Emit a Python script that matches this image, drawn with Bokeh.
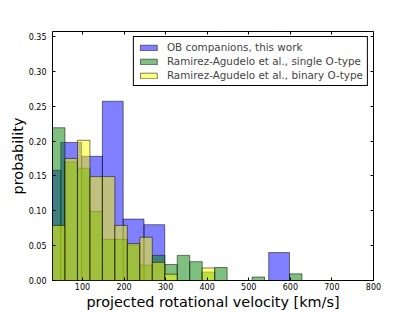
from bokeh.plotting import figure
from bokeh.models import (Range1d, FixedTicker, PrintfTickFormatter, LinearAxis,
                          Legend, LegendItem, CustomJSTickFormatter, ColumnDataSource)
from bokeh.embed import file_html
from bokeh.resources import INLINE

# ---- data ----
blue_edges = [-2, 48, 98, 148, 198, 248, 298, 348, 398, 448, 498, 548, 598]
blue_prob = [0.158, 0.198, 0.178, 0.257, 0.088, 0.080, 0.0, 0.0, 0.0, 0.0, 0.0, 0.040]

green_edges = [28, 58, 88, 118, 148, 178, 208, 238, 268, 298, 328, 358, 388, 418,
               448, 478, 508, 538, 568, 598, 628]
green_prob = [0.219, 0.170, 0.161, 0.099, 0.059, 0.059, 0.051, 0.022, 0.036, 0.023,
              0.036, 0.027, 0.012, 0.0186, 0.0, 0.0, 0.005, 0.0, 0.0, 0.0095]

yellow_edges = [28, 58, 88, 118, 148, 178, 208, 238, 268, 298, 328, 358, 388, 418]
yellow_prob = [0.079, 0.175, 0.201, 0.149, 0.149, 0.079, 0.053, 0.062, 0.026, 0.009,
               0.0, 0.0, 0.018]

series_labels = ["OB companions, this work",
                 "Ramirez-Agudelo et al., single O-type",
                 "Ramirez-Agudelo et al., binary O-type"]

x_ticks = [100, 200, 300, 400, 500, 600, 700, 800]
y_ticks = [0.0, 0.05, 0.10, 0.15, 0.20, 0.25, 0.30, 0.35]
x_label = "projected rotational velocity [km/s]"
y_label = "probability"

FONT = "DejaVu Sans"


def hist_source(edges, probs):
    left, right, top = [], [], []
    for i, pr in enumerate(probs):
        if pr > 0:
            left.append(edges[i])
            right.append(edges[i + 1])
            top.append(pr)
    return ColumnDataSource(dict(left=left, right=right, top=top))


p = figure(width=415, height=312, x_range=Range1d(28, 800), y_range=Range1d(0, 0.357),
           output_backend="svg", toolbar_location=None,
           min_border_left=52, min_border_right=42, min_border_top=31, min_border_bottom=31)
p.background_fill_color = "white"
p.border_fill_color = "white"
p.grid.visible = False
p.outline_line_color = "black"
p.outline_line_width = 1
p.outline_line_alpha = 1

renderers = []
for edges, probs, col in [(blue_edges, blue_prob, "#0000ff"),
                          (green_edges, green_prob, "#008000"),
                          (yellow_edges, yellow_prob, "#ffff00")]:
    src = hist_source(edges, probs)
    r = p.quad(left="left", right="right", top="top", bottom=0, source=src,
               fill_color=col, fill_alpha=0.5, line_color="black", line_alpha=0.5,
               line_width=1)
    renderers.append(r)

# axes
for ax in (p.xaxis[0], p.yaxis[0]):
    ax.axis_line_color = None
    ax.major_tick_in = 3
    ax.major_tick_out = 0
    ax.major_tick_line_color = "black"
    ax.minor_tick_line_color = None
    ax.major_label_text_font = FONT
    ax.major_label_text_font_size = "8px"
    ax.major_label_text_color = "black"
    ax.axis_label_text_font = FONT
    ax.axis_label_text_font_size = "14.4px"
    ax.axis_label_text_font_style = "normal"
    ax.axis_label_text_color = "black"

p.xaxis.ticker = FixedTicker(ticks=x_ticks)
p.xaxis.major_label_standoff = 2
p.xaxis.axis_label = x_label
p.xaxis.axis_label_standoff = 1

p.yaxis.ticker = FixedTicker(ticks=y_ticks)
p.yaxis.formatter = PrintfTickFormatter(format="%.2f")
p.yaxis.major_label_standoff = 6
p.yaxis.axis_label = y_label
p.yaxis.axis_label_standoff = 0

# tick marks on top and right (no labels)
for place, ticks in (("above", x_ticks), ("right", y_ticks)):
    ax = LinearAxis(ticker=FixedTicker(ticks=ticks),
                    formatter=CustomJSTickFormatter(code="return ''"),
                    major_tick_in=3, major_tick_out=0, minor_tick_line_color=None,
                    axis_line_color=None, major_label_text_font_size="1px",
                    major_label_standoff=0)
    p.add_layout(ax, place)

legend = Legend(items=[LegendItem(label=lab, renderers=[r])
                       for lab, r in zip(series_labels, renderers)],
                location="top_right", margin=5, padding=4, spacing=2,
                label_height=12, glyph_height=7, glyph_width=21, label_standoff=8,
                label_text_font=FONT, label_text_font_size="10.4px",
                border_line_color="black", border_line_width=1, border_line_alpha=1,
                background_fill_color="white", background_fill_alpha=1)
p.add_layout(legend)

open("out.html", "w").write(file_html(p, INLINE))
